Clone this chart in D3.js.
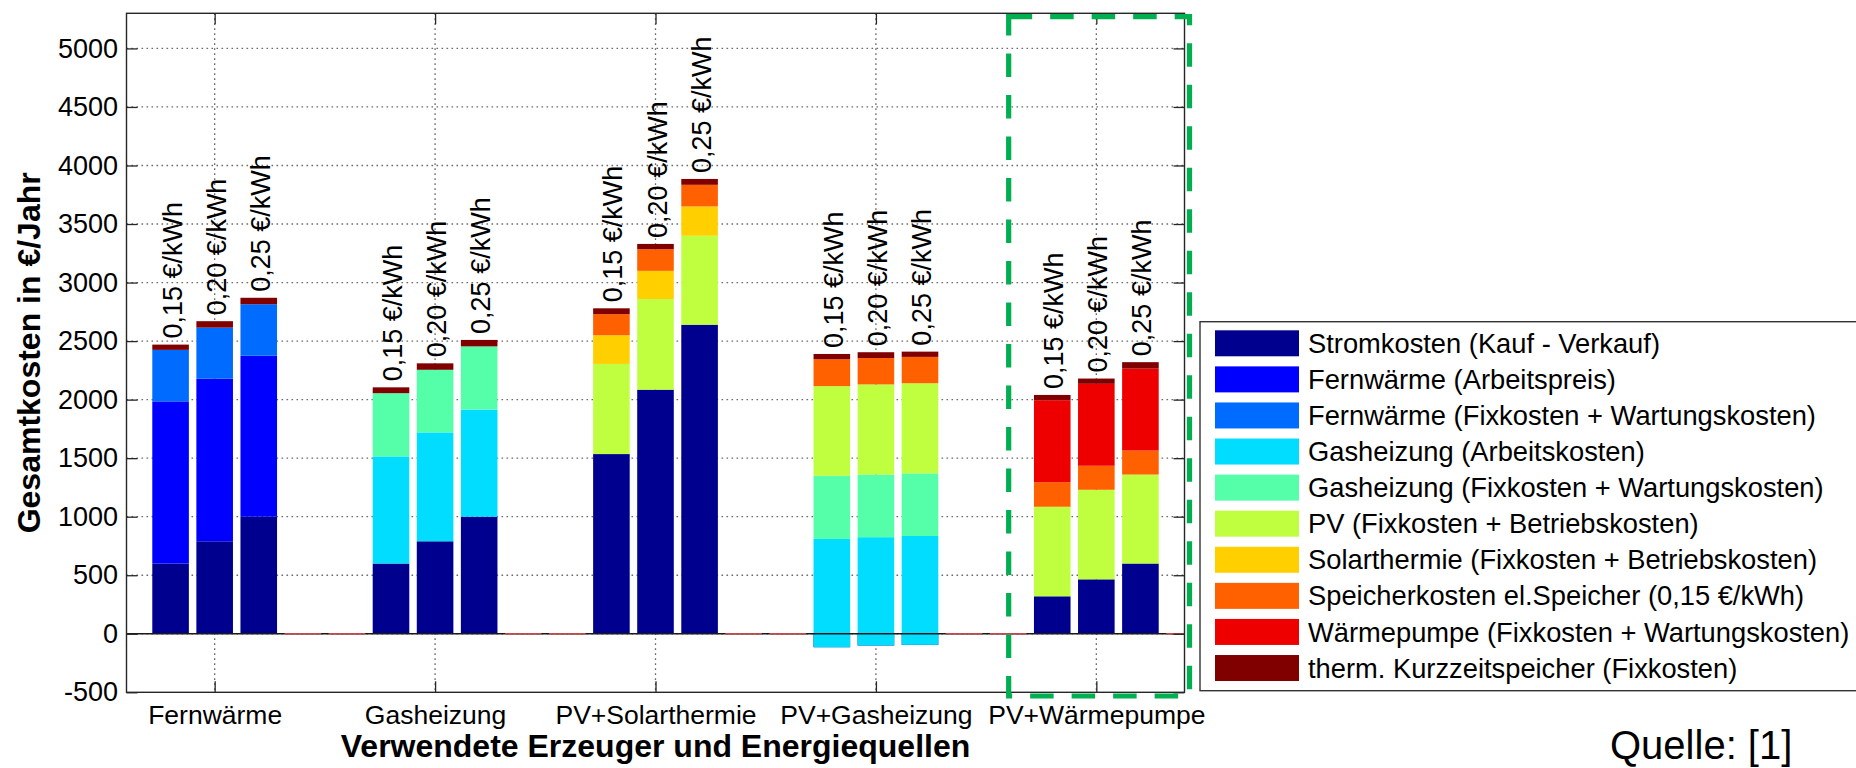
<!DOCTYPE html>
<html>
<head>
<meta charset="utf-8">
<script src="https://cdn.jsdelivr.net/npm/d3@7/dist/d3.min.js"></script>
<style>
  html, body { margin: 0; padding: 0; background: #fff; }
  svg { display: block; font-family: "Liberation Sans", Arial, Helvetica, sans-serif; }
</style>
</head>
<body>
<svg id="chart" width="1856" height="768"></svg>
<script>
// Heating systems compared, three electricity prices each
const groups = ["Fernwärme", "Gasheizung", "PV+Solarthermie", "PV+Gasheizung", "PV+Wärmepumpe"];
const priceLabels = ["0,15 €/kWh", "0,20 €/kWh", "0,25 €/kWh"];

const seriesNames = [
  "Stromkosten (Kauf - Verkauf)",
  "Fernwärme (Arbeitspreis)",
  "Fernwärme (Fixkosten + Wartungskosten)",
  "Gasheizung (Arbeitskosten)",
  "Gasheizung (Fixkosten + Wartungskosten)",
  "PV (Fixkosten + Betriebskosten)",
  "Solarthermie (Fixkosten + Betriebskosten)",
  "Speicherkosten el.Speicher (0,15 €/kWh)",
  "Wärmepumpe (Fixkosten + Wartungskosten)",
  "therm. Kurzzeitspeicher (Fixkosten)"
];
const seriesColors = ["#00008f", "#0000ff", "#006cff", "#00ddff", "#55ffaa",
                      "#bfff3f", "#ffcf00", "#ff6000", "#ee0000", "#800000"];

// Annual costs in €/Jahr, one value per bar (5 systems x 3 prices)
const stromkosten     = [600, 790, 1000,  600, 790, 1000,  1535, 2085, 2640,  -115, -100, -95,  320, 465, 600];
const fwArbeitspreis  = [1385, 1390, 1375,  0, 0, 0,  0, 0, 0,  0, 0, 0,  0, 0, 0];
const fwFixkosten     = [440, 435, 440,  0, 0, 0,  0, 0, 0,  0, 0, 0,  0, 0, 0];
const gasArbeitskost  = [0, 0, 0,  915, 930, 915,  0, 0, 0,  925, 925, 930,  0, 0, 0];
const gasFixkosten    = [0, 0, 0,  540, 535, 540,  0, 0, 0,  540, 535, 535,  0, 0, 0];
const pvKosten        = [0, 0, 0,  0, 0, 0,  770, 775, 760,  765, 770, 770,  765, 765, 760];
const solarKosten     = [0, 0, 0,  0, 0, 0,  245, 240, 250,  0, 0, 0,  0, 0, 0];
const speicherKosten  = [0, 0, 0,  0, 0, 0,  180, 185, 185,  230, 225, 225,  210, 205, 205];
const wpKosten        = [0, 0, 0,  0, 0, 0,  0, 0, 0,  0, 0, 0,  700, 700, 700];
const thermSpeicher   = [45, 55, 55,  50, 55, 55,  50, 45, 50,  45, 50, 45,  45, 45, 55];

const seriesValues = [stromkosten, fwArbeitspreis, fwFixkosten, gasArbeitskost, gasFixkosten,
                      pvKosten, solarKosten, speicherKosten, wpKosten, thermSpeicher];

const yTicks = d3.range(-500, 5001, 500);

// ---- layout ----
const svg = d3.select("#chart");
const plot = { left: 126.5, right: 1184.5, top: 13.3, bottom: 692.3 };
const slotsPerGroup = 5;
const nSlots = groups.length * slotsPerGroup - 1;

const x = d3.scaleLinear().domain([0, nSlots]).range([plot.left, plot.right]);
const y = d3.scaleLinear().domain([-500, 5300]).range([plot.bottom, plot.top]);
const barW = 0.83 * (x(1) - x(0));

const keys = seriesNames.map((_, i) => "s" + i);
const rows = stromkosten.map((_, i) => {
  const g = Math.floor(i / priceLabels.length), p = i % priceLabels.length;
  const r = { group: groups[g], price: priceLabels[p], pos: g * slotsPerGroup + p + 1 };
  keys.forEach((k, s) => { r[k] = seriesValues[s][i]; });
  r.total = d3.sum(keys, k => r[k]);
  return r;
});
const used = new Set(rows.map(r => r.pos));
const emptySlots = d3.range(1, nSlots + 1).filter(p => !used.has(p));
const groupCenters = groups.map((_, g) => g * slotsPerGroup + 2);

const stack = d3.stack().keys(keys).order(d3.stackOrderNone).offset(d3.stackOffsetNone);
const layers = stack(rows);

svg.append("defs").append("clipPath").attr("id", "plotclip")
  .append("rect").attr("x", plot.left).attr("y", plot.top)
  .attr("width", plot.right - plot.left).attr("height", plot.bottom - plot.top);

// ---- grid ----
const grid = svg.append("g").attr("stroke", "#6b6b6b").attr("stroke-width", 1.3)
  .attr("stroke-dasharray", "1.6,3.4");
grid.selectAll("line.h").data(yTicks.filter(t => t > -500)).join("line")
  .attr("x1", plot.left).attr("x2", plot.right)
  .attr("y1", d => y(d)).attr("y2", d => y(d));
grid.selectAll("line.v").data(groupCenters).join("line")
  .attr("x1", d => x(d)).attr("x2", d => x(d))
  .attr("y1", plot.top).attr("y2", plot.bottom);

// ---- stacked bars ----
const barsG = svg.append("g").attr("clip-path", "url(#plotclip)");
layers.forEach((layer, s) => {
  barsG.append("g").attr("fill", seriesColors[s])
    .selectAll("rect")
    .data(layer.filter(d => d[1] !== d[0]))
    .join("rect")
    .attr("x", d => x(d.data.pos) - barW / 2)
    .attr("width", barW)
    .attr("y", d => y(Math.max(d[0], d[1])))
    .attr("height", d => Math.abs(y(d[0]) - y(d[1])));
});

// baseline at zero
svg.append("line")
  .attr("x1", plot.left).attr("x2", plot.right)
  .attr("y1", y(0)).attr("y2", y(0))
  .attr("stroke", "#1a1a1a").attr("stroke-width", 1.3);

// empty slots show as flat red bars on the baseline
svg.append("g").attr("clip-path", "url(#plotclip)")
  .selectAll("line").data(emptySlots).join("line")
  .attr("x1", d => x(d) - barW / 2).attr("x2", d => x(d) + barW / 2)
  .attr("y1", y(0)).attr("y2", y(0))
  .attr("stroke", "#c84848").attr("stroke-width", 1.6);

// ---- price labels above bars ----
svg.append("g").selectAll("text").data(rows).join("text")
  .attr("transform", d => `translate(${x(d.pos) + 2},${y(d.total) - 6}) rotate(-90)`)
  .attr("dominant-baseline", "central")
  .attr("font-size", 27)
  .attr("fill", "#000")
  .text(d => d.price);

// ---- axes and frame ----
const axisColor = "#262626";
const tickLen = 11;

const yAxis = svg.append("g").attr("transform", `translate(${plot.left},0)`)
  .call(d3.axisLeft(y).tickValues(yTicks).tickFormat(d => String(d))
        .tickSizeInner(-tickLen).tickSizeOuter(0).tickPadding(8.5));
yAxis.select(".domain").remove();
yAxis.selectAll("line").attr("stroke", axisColor).attr("stroke-width", 1.3);
yAxis.selectAll("text").attr("font-size", 27).attr("fill", "#000")
  .attr("font-family", "'Liberation Sans', Arial, sans-serif");

const yAxisR = svg.append("g").attr("transform", `translate(${plot.right},0)`)
  .call(d3.axisRight(y).tickValues(yTicks).tickFormat("")
        .tickSizeInner(-tickLen).tickSizeOuter(0));
yAxisR.select(".domain").remove();
yAxisR.selectAll("line").attr("stroke", axisColor).attr("stroke-width", 1.3);

const xAxis = svg.append("g").attr("transform", `translate(0,${plot.bottom})`)
  .call(d3.axisBottom(x).tickValues(groupCenters).tickFormat((d, i) => groups[i])
        .tickSizeInner(-tickLen).tickSizeOuter(0).tickPadding(13));
xAxis.select(".domain").remove();
xAxis.selectAll("line").attr("stroke", axisColor).attr("stroke-width", 1.3);
xAxis.selectAll("text").attr("font-size", 26.5).attr("fill", "#000")
  .attr("font-family", "'Liberation Sans', Arial, sans-serif");

const xAxisT = svg.append("g").attr("transform", `translate(0,${plot.top})`)
  .call(d3.axisTop(x).tickValues(groupCenters).tickFormat("")
        .tickSizeInner(-tickLen).tickSizeOuter(0));
xAxisT.select(".domain").remove();
xAxisT.selectAll("line").attr("stroke", axisColor).attr("stroke-width", 1.3);

svg.append("rect")
  .attr("x", plot.left).attr("y", plot.top)
  .attr("width", plot.right - plot.left).attr("height", plot.bottom - plot.top)
  .attr("fill", "none").attr("stroke", axisColor).attr("stroke-width", 1.4);

// axis titles
svg.append("text")
  .attr("transform", `translate(39.5,${(plot.top + plot.bottom) / 2}) rotate(-90)`)
  .attr("text-anchor", "middle")
  .attr("font-size", 32).attr("font-weight", "bold")
  .text("Gesamtkosten in €/Jahr");

svg.append("text")
  .attr("x", (plot.left + plot.right) / 2).attr("y", 756.5)
  .attr("text-anchor", "middle")
  .attr("font-size", 32).attr("font-weight", "bold")
  .text("Verwendete Erzeuger und Energiequellen");

// highlight frame around the heat pump variant (from the slot gap before it to the axis edge)
const hlX0 = x(groupCenters[4] - 2) + 0.5;
svg.append("rect")
  .attr("x", hlX0).attr("y", 16.7)
  .attr("width", 1189.5 - hlX0).attr("height", 696 - 16.7)
  .attr("fill", "none").attr("stroke", "#00b050").attr("stroke-width", 5.2)
  .attr("stroke-dasharray", "23.5 18");

// ---- legend ----
const legend = svg.append("g");
legend.append("rect")
  .attr("x", 1200).attr("y", 321.7).attr("width", 720).attr("height", 369)
  .attr("fill", "#fff").attr("stroke", "#333").attr("stroke-width", 1.4);
const rowH = 36.08;
const item = legend.selectAll("g.item").data(seriesNames).join("g")
  .attr("transform", (d, i) => `translate(1215,${343.3 + i * rowH})`);
item.append("rect")
  .attr("x", 0).attr("y", -13).attr("width", 84).attr("height", 26)
  .attr("fill", (d, i) => seriesColors[i]);
item.append("text")
  .attr("x", 93).attr("dy", "0.35em")
  .attr("font-size", 27.3)
  .text(d => d);

// source note
svg.append("text")
  .attr("x", 1610).attr("y", 759)
  .attr("font-size", 40)
  .text("Quelle: [1]");
</script>
</body>
</html>
